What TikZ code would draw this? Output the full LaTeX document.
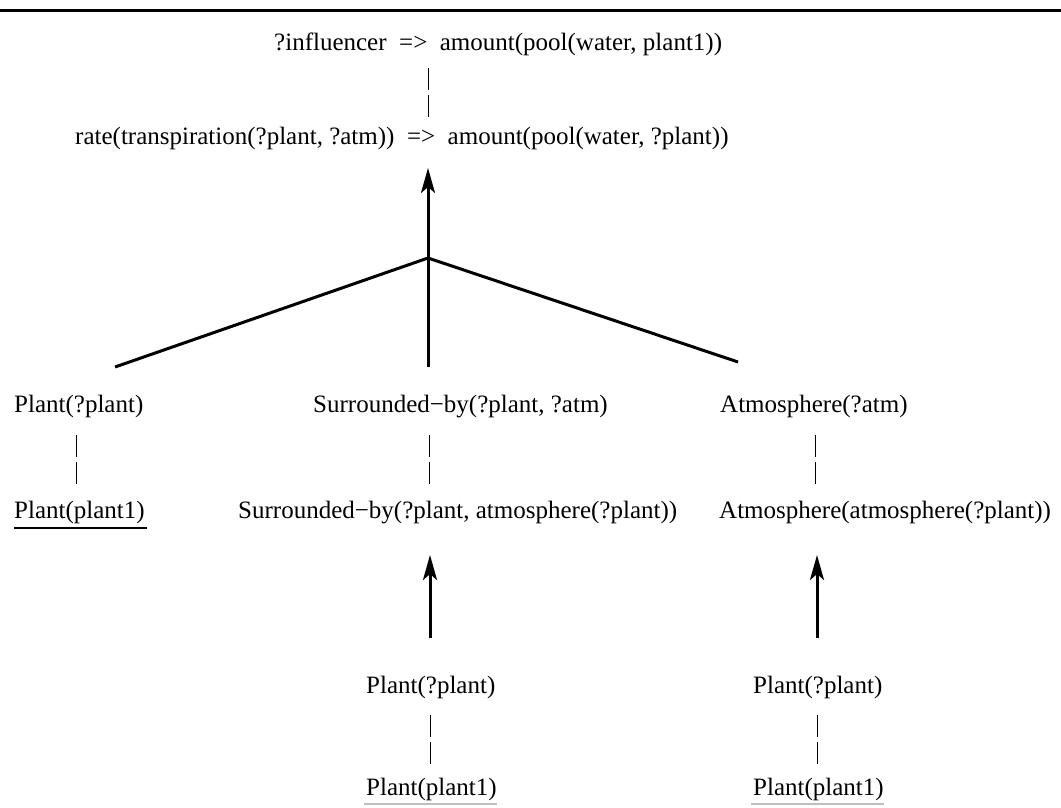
\documentclass[tikz,border=0pt]{standalone}
\usepackage{fontspec}
\setmainfont{Liberation Serif}
\usetikzlibrary{arrows.meta}
\begin{document}
\begin{tikzpicture}[x=1pt,y=-1pt,
  term/.style={anchor=base west,inner sep=0pt,font=\fontsize{25}{30}\selectfont},
  match/.style={line width=0.9pt,dash pattern=on 22pt off 5pt},
  derive/.style={line width=3pt,-{Stealth[length=25pt,width=14pt,inset=6pt]}},
  branch/.style={line width=3pt},
  rule/.style={line width=3pt}]
\useasboundingbox (0,0) rectangle (1061,807);

% heading rule
\coordinate (ruleL) at (0,10);
\coordinate (ruleR) at (1061,10);
\draw[rule] (ruleL) -- (ruleR);

% query and the matching rule head
\node[term] (goal) at (274,50) {?influencer\ \ =>\ \ amount(pool(water, plant1))};
\node[term] (head) at (75,144) {rate(transpiration(?plant, ?atm))\ \ =>\ \ amount(pool(water, ?plant))};
\coordinate (gA) at (428,68);
\coordinate (gB) at (428,117);
\draw[match] (gA) -- (gB);

% rule body joined at one point
\coordinate (join) at (428,258);
\coordinate (headIn) at (428,168);
\coordinate (bL) at (115,367);
\coordinate (bM) at (428,367);
\coordinate (bR) at (738,362);
\draw[derive] (join) -- (headIn);
\draw[branch] (join) -- (bL);
\draw[branch] (join) -- (bM);
\draw[branch] (join) -- (bR);

% body conditions
\node[term] (c1) at (14,412) {Plant(?plant)};
\node[term] (c2) at (313,412) {Surrounded−by(?plant, ?atm)};
\node[term] (c3) at (720,412) {Atmosphere(?atm)};

% their instances
\node[term] (i1) at (14,518) {Plant(plant1)};
\node[term] (i2) at (238,518) {Surrounded−by(?plant, atmosphere(?plant))};
\node[term] (i3) at (719,518) {Atmosphere(atmosphere(?plant))};
\draw[line width=1.6pt] (i1.base west) ++(0,10) -- ++(133,0);

\coordinate (m1a) at (76,435);
\coordinate (m1b) at (76,484);
\coordinate (m2a) at (429,435);
\coordinate (m2b) at (429,484);
\coordinate (m3a) at (815,435);
\coordinate (m3b) at (815,484);
\draw[match] (m1a) -- (m1b);
\draw[match] (m2a) -- (m2b);
\draw[match] (m3a) -- (m3b);

% supporting derivations
\coordinate (s2a) at (430,638);
\coordinate (s2b) at (430,555);
\coordinate (s3a) at (817,638);
\coordinate (s3b) at (817,555);
\draw[derive] (s2a) -- (s2b);
\draw[derive] (s3a) -- (s3b);

\node[term] (p2) at (366,693) {Plant(?plant)};
\node[term] (p3) at (753,693) {Plant(?plant)};
\node[term] (f2) at (366,795) {Plant(plant1)};
\node[term] (f3) at (753,795) {Plant(plant1)};
\coordinate (n2a) at (430,715);
\coordinate (n2b) at (430,764);
\coordinate (n3a) at (817,715);
\coordinate (n3b) at (817,764);
\draw[match] (n2a) -- (n2b);
\draw[match] (n3a) -- (n3b);
\draw[line width=1.2pt,black!25] (f2.base west) ++(-2,9) -- ++(133,0);
\draw[line width=1.2pt,black!25] (f3.base west) ++(-2,9) -- ++(133,0);
\end{tikzpicture}
\end{document}
